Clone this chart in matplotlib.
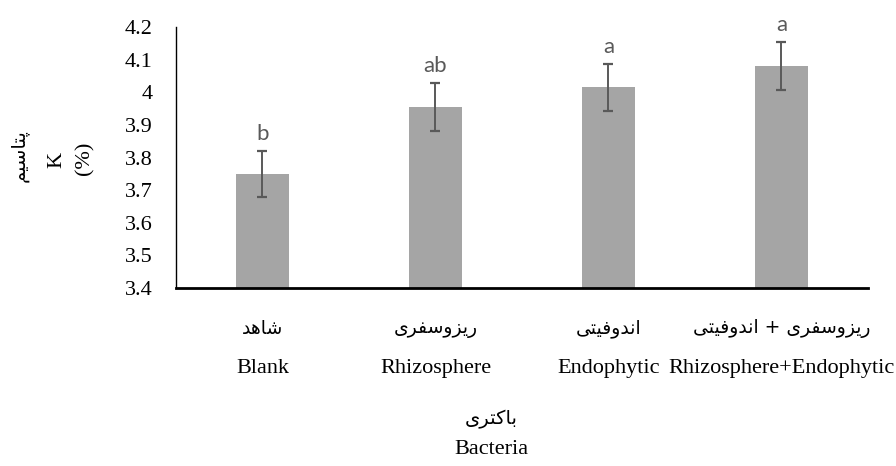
import matplotlib.pyplot as plt
import numpy as np

# values
labels_en = ["Blank", "Rhizosphere", "Endophytic", "Rhizosphere+Endophytic"]
labels_fa = ["شاهد", "ریزوسفری", "اندوفیتی", "ریزوسفری + اندوفیتی"]
potassium = [3.75, 3.955, 4.015, 4.08]
errors = [0.07, 0.073, 0.072, 0.073]
letters = ["b", "ab", "a", "a"]
yticks = [3.4, 3.5, 3.6, 3.7, 3.8, 3.9, 4.0, 4.1, 4.2]
xlabel_fa = "باکتری"
xlabel_en = "Bacteria"
ylabel_fa = "پتاسیم"

# matplotlib does not shape arabic script, so pick presentation forms by hand
FORMS = {
    'ا': (0xFE8D, 0xFE8E, None, None),
    'ب': (0xFE8F, 0xFE90, 0xFE91, 0xFE92),
    'پ': (0xFB56, 0xFB57, 0xFB58, 0xFB59),
    'ت': (0xFE95, 0xFE96, 0xFE97, 0xFE98),
    'د': (0xFEA9, 0xFEAA, None, None),
    'ر': (0xFEAD, 0xFEAE, None, None),
    'ز': (0xFEAF, 0xFEB0, None, None),
    'س': (0xFEB1, 0xFEB2, 0xFEB3, 0xFEB4),
    'ش': (0xFEB5, 0xFEB6, 0xFEB7, 0xFEB8),
    'ف': (0xFED1, 0xFED2, 0xFED3, 0xFED4),
    'ک': (0xFB8E, 0xFB8F, 0xFB90, 0xFB91),
    'م': (0xFEE1, 0xFEE2, 0xFEE3, 0xFEE4),
    'ن': (0xFEE5, 0xFEE6, 0xFEE7, 0xFEE8),
    'ه': (0xFEE9, 0xFEEA, 0xFEEB, 0xFEEC),
    'و': (0xFEED, 0xFEEE, None, None),
    'ی': (0xFBFC, 0xFBFD, 0xFBFE, 0xFBFF),
}


def shape(text):
    out = []
    for i, ch in enumerate(text):
        if ch not in FORMS:
            out.append(ch)
            continue
        prev = text[i - 1] if i > 0 else ''
        nxt = text[i + 1] if i + 1 < len(text) else ''
        join_prev = prev in FORMS and FORMS[prev][2] is not None
        join_next = nxt in FORMS and FORMS[ch][2] is not None
        iso, fin, ini, med = FORMS[ch]
        if join_prev and join_next:
            c = med
        elif join_prev:
            c = fin
        elif join_next:
            c = ini
        else:
            c = iso
        out.append(chr(c))
    return ''.join(reversed(out))


serif = ['Liberation Serif', 'DejaVu Sans']
fa_font = ['DejaVu Sans']

fig = plt.figure(figsize=(8.96, 4.66), dpi=100)
ax = fig.add_axes([0.1964, 0.382, 0.7723, 0.56])

x = np.arange(len(labels_en))
ax.bar(x, potassium, width=0.31, color='#A5A5A5', zorder=2)
ax.errorbar(x, potassium, yerr=errors, fmt='none', ecolor='#595959',
            elinewidth=1.4, capsize=3.5, capthick=1.6, zorder=3)

for i in range(len(x)):
    ax.annotate(letters[i], xy=(x[i], potassium[i] + errors[i]),
                xytext=(0, 5), textcoords='offset points', ha='center',
                va='bottom', fontsize=16, color='#595959', family='Lato')
    ax.annotate(shape(labels_fa[i]), xy=(x[i], 0), xycoords=('data', 'axes fraction'),
                xytext=(0, -29), textcoords='offset points', ha='center',
                va='center', fontsize=13.5, family=fa_font)
    ax.annotate(labels_en[i], xy=(x[i], 0), xycoords=('data', 'axes fraction'),
                xytext=(0, -58), textcoords='offset points', ha='center',
                va='center', fontsize=16, family=serif)

ax.set_xlim(-0.5, len(x) - 0.5)
ax.set_ylim(3.4, 4.2)
ax.set_xticks([])
ax.set_yticks(yticks)
ax.set_yticklabels(['%g' % v for v in yticks], family=serif, fontsize=16)
ax.tick_params(axis='y', length=0, pad=17)

for s in ['top', 'right']:
    ax.spines[s].set_visible(False)
ax.spines['left'].set_linewidth(1.0)
ax.spines['bottom'].set_linewidth(2.0)

fig.text(491 / 896, 1 - 419 / 466, shape(xlabel_fa), ha='center', va='center',
         fontsize=14, family=fa_font)
fig.text(491 / 896, 1 - 449 / 466, xlabel_en, ha='center', va='center',
         fontsize=16, family=serif)

# y title: three rotated lines
fig.text(19 / 896, 1 - 156 / 466, shape(ylabel_fa), rotation=90, ha='center',
         va='center', fontsize=14, family=fa_font)
fig.text(57 / 896, 1 - 160 / 466, "K", rotation=90, ha='center', va='center',
         fontsize=16, family=serif)
fig.text(85 / 896, 1 - 158 / 466, "(%)", rotation=90, ha='center', va='center',
         fontsize=16, family=serif)

plt.savefig('out.png')
